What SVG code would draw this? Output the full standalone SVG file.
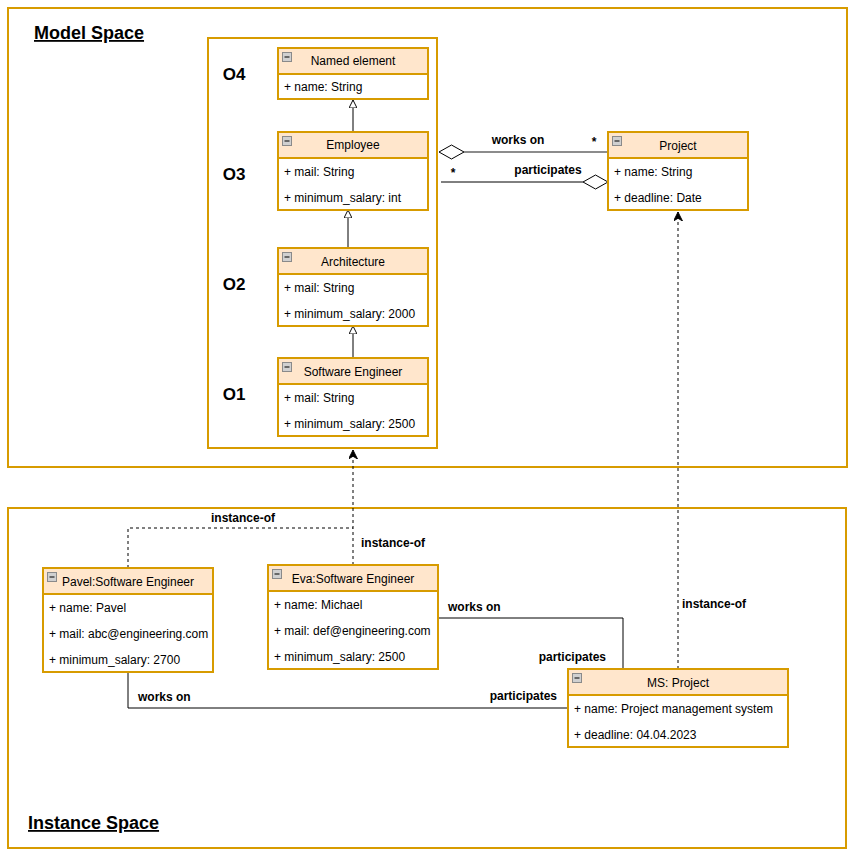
<svg xmlns="http://www.w3.org/2000/svg" width="855" height="858" viewBox="0 0 855 858">
<defs>
<style>
.frame{fill:none;stroke:#d79b00;stroke-width:2}
.box{fill:#ffffff;stroke:#d79b00;stroke-width:2}
.hdr{fill:#ffe6cc;stroke:#d79b00;stroke-width:2}
.t{font-family:"Liberation Sans",Arial,sans-serif;font-size:12px;fill:#000}
.c{text-anchor:middle}
.b{font-family:"Liberation Sans",Arial,sans-serif;font-size:12px;font-weight:bold;fill:#000}
.lvl{font-family:"Liberation Sans",Arial,sans-serif;font-size:17px;font-weight:bold;fill:#000;text-anchor:middle}
.title{font-family:"Liberation Sans",Arial,sans-serif;font-size:18px;font-weight:bold;fill:#000;text-decoration:underline}
.ln{fill:none;stroke:#000;stroke-width:1}
.dash{fill:none;stroke:#000;stroke-width:1;stroke-dasharray:3 3}
.icon{fill:#d0d0d0;stroke:#8a8a8a;stroke-width:1}
</style>
<marker id="gen" viewBox="0 0 10 10" refX="10" refY="5" markerWidth="8" markerHeight="8" markerUnits="userSpaceOnUse" orient="auto">
<path d="M0,0 L10,5 L0,10 Z" fill="#fff" stroke="#000" stroke-width="1.2"/>
</marker>
<marker id="fill" viewBox="0 0 10 10" refX="10" refY="5" markerWidth="9" markerHeight="9" markerUnits="userSpaceOnUse" orient="auto">
<path d="M0,0 L10,5 L0,10 L3,5 Z" fill="#000" stroke="#000" stroke-width="1"/>
</marker>
<g id="ico"><rect class="icon" x="0.5" y="0.5" width="9" height="9"/><line x1="2.5" y1="5" x2="7.5" y2="5" stroke="#000" stroke-width="1"/></g>
</defs>
<rect width="855" height="858" fill="#fff"/>

<g id="model-space">
<rect class="frame" x="8" y="8" width="839" height="459"/>
<text class="title" x="34" y="39">Model Space</text>
</g>
<g id="instance-space">
<rect class="frame" x="8" y="508" width="838" height="340"/>
<text class="title" x="28" y="829">Instance Space</text>
</g>
<g id="levels-frame">
<rect class="frame" x="208" y="38" width="229" height="410"/>
<text class="lvl" x="234" y="80">O4</text>
<text class="lvl" x="234" y="180">O3</text>
<text class="lvl" x="234" y="290">O2</text>
<text class="lvl" x="234" y="400">O1</text>
</g>

<g id="connectors">
<line class="ln" x1="353" y1="132" x2="353" y2="100" marker-end="url(#gen)"/>
<line class="ln" x1="348" y1="248" x2="348" y2="210" marker-end="url(#gen)"/>
<line class="ln" x1="353" y1="358" x2="353" y2="326" marker-end="url(#gen)"/>
<line x1="464" y1="152" x2="608" y2="152" stroke="#666" stroke-width="1.5"/>
<path d="M439,152 L451.5,145 L464,152 L451.5,159 Z" fill="#fff" stroke="#000" stroke-width="1"/>
<text class="b" x="518" y="144" text-anchor="middle">works on</text>
<text class="b" x="594" y="146" text-anchor="middle">*</text>
<line class="ln" x1="441" y1="182" x2="583" y2="182"/>
<path d="M583,182 L595.5,175 L608,182 L595.5,189 Z" fill="#fff" stroke="#000" stroke-width="1"/>
<text class="b" x="453" y="177" text-anchor="middle">*</text>
<text class="b" x="548" y="174" text-anchor="middle">participates</text>
<path class="dash" d="M353,565 L353,450" marker-end="url(#fill)"/>
<path class="dash" d="M128,568 L128,528 L353,528"/>
<text class="b" x="243" y="522" text-anchor="middle">instance-of</text>
<text class="b" x="393" y="547" text-anchor="middle">instance-of</text>
<path class="dash" d="M678,669 L678,212" marker-end="url(#fill)"/>
<text class="b" x="714" y="608" text-anchor="middle">instance-of</text>
<path class="ln" d="M438,618 L623,618 L623,669"/>
<text class="b" x="448" y="611">works on</text>
<text class="b" x="606" y="661" text-anchor="end">participates</text>
<path class="ln" d="M128,672 L128,708 L568,708"/>
<text class="b" x="138" y="701">works on</text>
<text class="b" x="557" y="700" text-anchor="end">participates</text>
</g>

<g id="named-element">
<rect class="hdr" x="278" y="48" width="150" height="26"/>
<rect class="box" x="278" y="74" width="150" height="25"/>
<use href="#ico" x="282" y="52"/>
<text class="t c" x="353" y="65">Named element</text>
<text class="t" x="284" y="91">+ name: String</text>
</g>
<g id="employee">
<rect class="hdr" x="278" y="132" width="150" height="26"/>
<rect class="box" x="278" y="158" width="150" height="52"/>
<use href="#ico" x="282" y="136"/>
<text class="t c" x="353" y="149">Employee</text>
<text class="t" x="284" y="176">+ mail: String</text>
<text class="t" x="284" y="202">+ minimum_salary: int</text>
</g>
<g id="architecture">
<rect class="hdr" x="278" y="248" width="150" height="26"/>
<rect class="box" x="278" y="274" width="150" height="52"/>
<use href="#ico" x="282" y="252"/>
<text class="t c" x="353" y="266">Architecture</text>
<text class="t" x="284" y="292">+ mail: String</text>
<text class="t" x="284" y="318">+ minimum_salary: 2000</text>
</g>
<g id="software-engineer">
<rect class="hdr" x="278" y="358" width="150" height="26"/>
<rect class="box" x="278" y="384" width="150" height="52"/>
<use href="#ico" x="282" y="362"/>
<text class="t c" x="353" y="376">Software Engineer</text>
<text class="t" x="284" y="402">+ mail: String</text>
<text class="t" x="284" y="428">+ minimum_salary: 2500</text>
</g>
<g id="project">
<rect class="hdr" x="608" y="132" width="140" height="26"/>
<rect class="box" x="608" y="158" width="140" height="52"/>
<use href="#ico" x="612" y="136"/>
<text class="t c" x="678" y="150">Project</text>
<text class="t" x="614" y="176">+ name: String</text>
<text class="t" x="614" y="202">+ deadline: Date</text>
</g>
<g id="pavel">
<rect class="hdr" x="43" y="568" width="170" height="26"/>
<rect class="box" x="43" y="594" width="170" height="78"/>
<use href="#ico" x="47" y="572"/>
<text class="t c" x="128" y="586">Pavel:Software Engineer</text>
<text class="t" x="49" y="612">+ name: Pavel</text>
<text class="t" x="49" y="638">+ mail: abc@engineering.com</text>
<text class="t" x="49" y="664">+ minimum_salary: 2700</text>
</g>
<g id="eva">
<rect class="hdr" x="268" y="565" width="170" height="26"/>
<rect class="box" x="268" y="591" width="170" height="78"/>
<use href="#ico" x="272" y="569"/>
<text class="t c" x="353" y="583">Eva:Software Engineer</text>
<text class="t" x="274" y="609">+ name: Michael</text>
<text class="t" x="274" y="635">+ mail: def@engineering.com</text>
<text class="t" x="274" y="661">+ minimum_salary: 2500</text>
</g>
<g id="ms-project">
<rect class="hdr" x="568" y="669" width="220" height="26"/>
<rect class="box" x="568" y="695" width="220" height="52"/>
<use href="#ico" x="572" y="673"/>
<text class="t c" x="678" y="687">MS: Project</text>
<text class="t" x="574" y="713">+ name: Project management system</text>
<text class="t" x="574" y="739">+ deadline: 04.04.2023</text>
</g>
</svg>
